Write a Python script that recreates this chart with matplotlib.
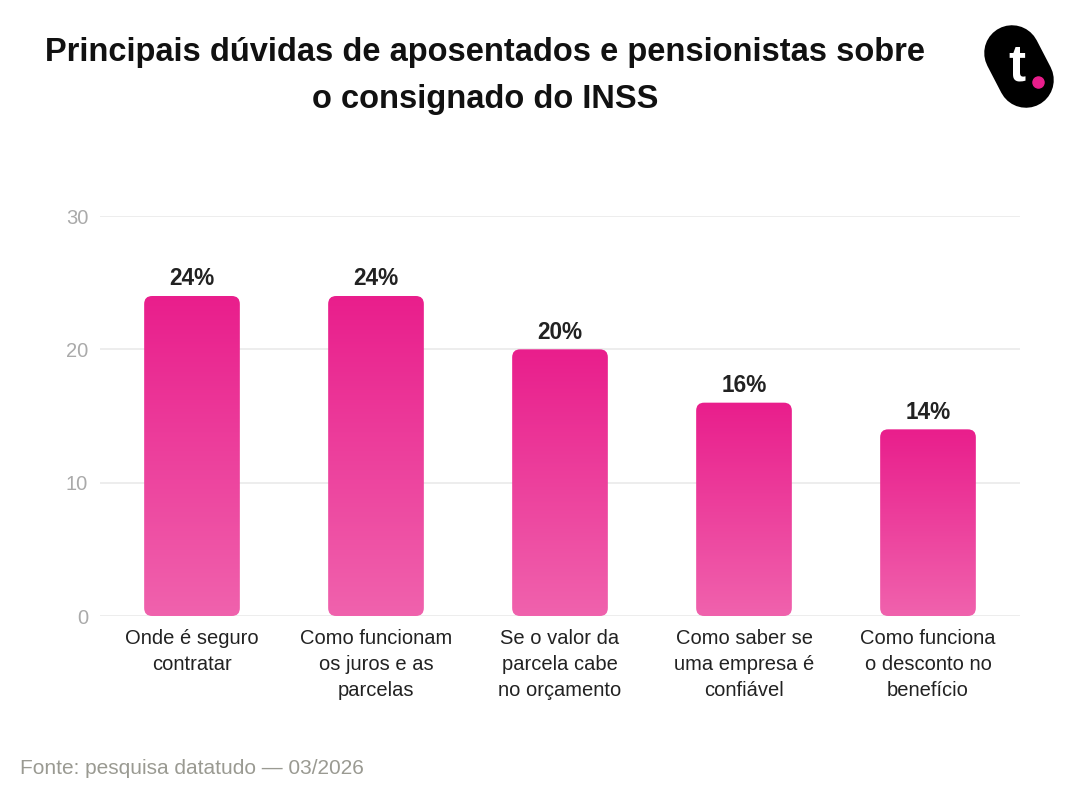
import numpy as np
import matplotlib
matplotlib.use('Agg')
import matplotlib.pyplot as plt
from matplotlib.patches import FancyBboxPatch
from matplotlib.colors import LinearSegmentedColormap
from matplotlib.lines import Line2D

plt.rcParams['font.family'] = ['Liberation Sans', 'DejaVu Sans']

categories = ['Onde é seguro\ncontratar',
              'Como funcionam\nos juros e as\nparcelas',
              'Se o valor da\nparcela cabe\nno orçamento',
              'Como saber se\numa empresa é\nconfiável',
              'Como funciona\no desconto no\nbenefício']
values = [24, 24, 20, 16, 14]
yticks = [0, 10, 20, 30]

W, H = 1080, 806
fig = plt.figure(figsize=(W / 100, H / 100), dpi=100)
fig.patch.set_facecolor('white')

# axes placed in pixel terms
ax_l, ax_r, ax_b, ax_t = 100, 1020, 616, 216
ax = fig.add_axes([ax_l / W, 1 - ax_b / H, (ax_r - ax_l) / W, (ax_b - ax_t) / H])
ax.set_xlim(-0.5, len(values) - 0.5)
ax.set_ylim(0, 30)
for s in ax.spines.values():
    s.set_visible(False)
ax.set_yticks(yticks)
ax.yaxis.grid(True, color='#ececec', linewidth=1.3)
ax.set_axisbelow(True)
ax.tick_params(axis='y', length=0, pad=8.5, labelsize=14.5, labelcolor='#aaaaaa')
ax.set_xticks(range(len(categories)))
ax.set_xticklabels(categories, linespacing=1.5)
ax.tick_params(axis='x', length=0, pad=9, labelsize=14.5, labelcolor='#222222')

cmap = LinearSegmentedColormap.from_list('pink', ['#f062ad', '#e91e8c'])
grad = np.linspace(0, 1, 256).reshape(-1, 1)

bw = 0.52
px_x = len(values) / (ax_r - ax_l)   # data units per px in x
px_y = 30 / (ax_b - ax_t)           # data units per px in y
rad = 8 * px_x
for i, v in enumerate(values):
    patch = FancyBboxPatch((i - bw / 2, 0), bw, v,
                           boxstyle='round,pad=0,rounding_size=%f' % rad,
                           mutation_aspect=px_y / px_x,
                           facecolor='none', edgecolor='none', zorder=2)
    ax.add_patch(patch)
    im = ax.imshow(grad, cmap=cmap, aspect='auto', origin='lower',
                   extent=(i - bw / 2, i + bw / 2, 0, v), zorder=2)
    im.set_clip_path(patch)
    ax.annotate('%d%%' % v, (i, v), xytext=(0, 4), textcoords='offset points',
                ha='center', va='bottom', fontsize=16.3, fontweight='bold',
                color='#222222')
ax.set_xlim(-0.5, len(values) - 0.5)
ax.set_ylim(0, 30)

# title
fig.text(485 / W, 1 - 76 / H, 'Principais dúvidas de aposentados e pensionistas sobre\no consignado do INSS',
         ha='center', va='center', fontsize=23.5, fontweight='bold', color='#111111',
         linespacing=1.7)

# footer
fig.text(20 / W, 1 - 768 / H, 'Fonte: pesquisa datatudo — 03/2026', ha='left', va='center',
         fontsize=15, color='#9a9a92')

# logo
fig.add_artist(Line2D([1012 / W, 1026 / W], [1 - 53 / H, 1 - 80 / H], color='black',
                      linewidth=40, solid_capstyle='round', transform=fig.transFigure))
fig.text(1017 / W, 1 - 67 / H, 't', ha='center', va='center', fontsize=37,
         fontweight='bold', color='white')
fig.add_artist(Line2D([1038 / W], [1 - 82 / H], marker='o', markersize=8,
                      color='#e91e8c', linestyle='none', transform=fig.transFigure))

fig.savefig('out.png', dpi=100, facecolor='white')
